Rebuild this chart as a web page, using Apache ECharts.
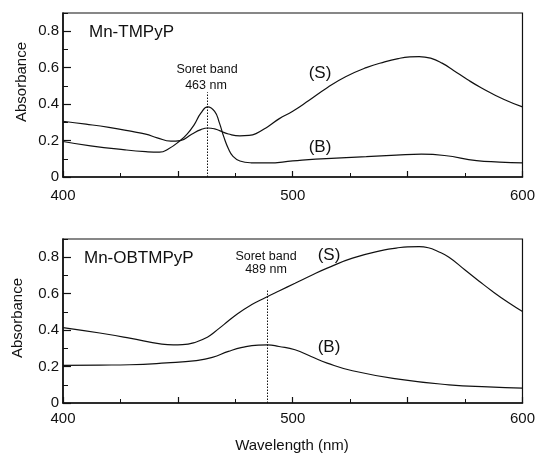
<!DOCTYPE html>
<html>
<head>
<meta charset="utf-8">
<script src="https://cdn.jsdelivr.net/npm/echarts@6/dist/echarts.min.js"></script>
<style>
html,body{margin:0;padding:0;background:#fff;}
#chart{width:538px;height:453px;}
</style>
</head>
<body>
<div id="chart"></div>
<script>
// ---- Data ----
// Top panel: Mn-TMPyP
var tmpyS_wl  = [400,410,420,430,436,441,447,451,456,460,463,466,469,472,477,481,484,489,494,500,507,515,523,532,540,546,551,555,560,565,570,576,582,592,600];
var tmpyS_abs = [0.306,0.29,0.272,0.25,0.235,0.215,0.197,0.2,0.235,0.26,0.269,0.264,0.25,0.236,0.226,0.228,0.238,0.275,0.319,0.361,0.42,0.49,0.55,0.60,0.632,0.65,0.659,0.661,0.652,0.625,0.585,0.535,0.49,0.425,0.385];
var tmpyB_wl  = [400,412,427,436,442,446,451,454,457,460,463,466,468,470,472,474,477,482,489,500,510,532,545,556,566,580,590,600];
var tmpyB_abs = [0.195,0.171,0.149,0.139,0.136,0.155,0.2,0.235,0.285,0.35,0.385,0.36,0.3,0.22,0.155,0.113,0.088,0.078,0.077,0.088,0.098,0.112,0.12,0.125,0.118,0.09,0.082,0.077];
// Bottom panel: Mn-OBTMPyP
var obS_wl  = [400,416,429,443,448,452,458,463,466,470,476,482,488,494,501,508,515,526,540,545,550,555,559,563,568,575,581,587,594,600];
var obS_abs = [0.414,0.384,0.356,0.323,0.319,0.32,0.335,0.362,0.39,0.43,0.49,0.539,0.578,0.615,0.657,0.7,0.74,0.795,0.84,0.85,0.857,0.858,0.852,0.833,0.80,0.73,0.67,0.612,0.55,0.502];
var obB_wl  = [400,416,429,445,458,465,472,478,485,489,494,501,508,515,526,546,568,585,600];
var obB_abs = [0.206,0.208,0.21,0.22,0.233,0.25,0.283,0.305,0.318,0.319,0.31,0.292,0.255,0.219,0.177,0.131,0.10,0.088,0.082];
var soretTop = 463, soretTopTop = 0.465;
var soretBot = 489, soretBotTop = 0.62;
var xTicks = [400, 500, 600];
var yTicks = [0, 0.2, 0.4, 0.6, 0.8];

function zip(a, b){ return a.map(function(v,i){ return [v, b[i]]; }); }

var FONT = '"Liberation Sans", Arial, Helvetica, sans-serif';
var INK = '#111';

var chart = echarts.init(document.getElementById('chart'), null, {renderer:'canvas'});

function xAxisCfg(gridIndex, margin){
  return {
    type:'value', gridIndex:gridIndex, min:400, max:600, interval:50,
    axisLine:{show:true, lineStyle:{color:INK, width:1.6}},
    axisTick:{show:true, inside:true, length:6, lineStyle:{color:INK, width:1.2}},
    minorTick:{show:true, splitNumber:2, length:4, lineStyle:{color:INK, width:1}},
    splitLine:{show:false},
    axisLabel:{color:INK, fontFamily:FONT, fontSize:15, margin:margin,
      formatter:function(v){ return xTicks.indexOf(v) >= 0 ? String(v) : ''; },
      showMinLabel:true, showMaxLabel:true}
  };
}
function yAxisMajor(gridIndex){
  return {
    type:'value', gridIndex:gridIndex, min:0, max:0.9, interval:0.2,
    axisLine:{show:true, lineStyle:{color:INK, width:1.6}},
    axisTick:{show:true, inside:true, length:8, lineStyle:{color:INK, width:1.2}},
    splitLine:{show:false},
    axisLabel:{color:INK, fontFamily:FONT, fontSize:15, margin:4, showMaxLabel:false,
      formatter:function(v){
        var r = Math.round(v*10)/10;
        if (yTicks.indexOf(r) < 0) return '';
        return r === 0 ? '0' : String(r);
      }}
  };
}
function yAxisMinor(gridIndex){
  return {
    type:'value', gridIndex:gridIndex, min:0, max:0.9, interval:0.1, position:'left',
    axisLine:{show:false},
    axisTick:{show:true, inside:true, length:5, lineStyle:{color:INK, width:1}},
    splitLine:{show:false},
    axisLabel:{show:false}
  };
}

function lineSeries(name, xi, yi, data, markLineCfg){
  var s = {
    name:name, type:'line', xAxisIndex:xi, yAxisIndex:yi, data:data,
    smooth:0.5, showSymbol:false, symbol:'none',
    lineStyle:{color:INK, width:1.2}, silent:true, animation:false, z:3
  };
  if (markLineCfg) s.markLine = markLineCfg;
  return s;
}
function soretLine(x, top){
  return {
    silent:true, symbol:['none','none'], animation:false,
    lineStyle:{color:INK, width:1, type:[1.5,1.5]},
    label:{show:false},
    data:[[{coord:[x,0]},{coord:[x,top]}]]
  };
}

var option = {
  backgroundColor:'#fff',
  animation:false,
  grid:[
    {left:63, top:13, width:463, height:164, show:true, borderColor:INK, borderWidth:1.2, backgroundColor:'transparent'},
    {left:63, top:239, width:463, height:164, show:true, borderColor:INK, borderWidth:1.2, backgroundColor:'transparent'}
  ],
  xAxis:[xAxisCfg(0, 11), xAxisCfg(1, 8)],
  yAxis:[yAxisMajor(0), yAxisMinor(0), yAxisMajor(1), yAxisMinor(1)],
  series:[
    lineSeries('(S) Mn-TMPyP', 0, 0, zip(tmpyS_wl, tmpyS_abs)),
    lineSeries('(B) Mn-TMPyP', 0, 0, zip(tmpyB_wl, tmpyB_abs), soretLine(soretTop, soretTopTop)),
    lineSeries('(S) Mn-OBTMPyP', 1, 2, zip(obS_wl, obS_abs)),
    lineSeries('(B) Mn-OBTMPyP', 1, 2, zip(obB_wl, obB_abs), soretLine(soretBot, soretBotTop))
  ],
  graphic:[
    {type:'text', x:22, y:82, rotation:Math.PI/2, style:{text:'Absorbance', font:'15px '+FONT, fill:INK, textAlign:'center', textVerticalAlign:'middle'}},
    {type:'text', x:18, y:318, rotation:Math.PI/2, style:{text:'Absorbance', font:'15px '+FONT, fill:INK, textAlign:'center', textVerticalAlign:'middle'}},
    {type:'text', x:292, y:446, style:{text:'Wavelength (nm)', font:'15px '+FONT, fill:INK, textAlign:'center', textVerticalAlign:'middle'}},
    {type:'text', x:89, y:32, style:{text:'Mn-TMPyP', font:'17px '+FONT, fill:INK, textAlign:'left', textVerticalAlign:'middle'}},
    {type:'text', x:84, y:258, style:{text:'Mn-OBTMPyP', font:'17px '+FONT, fill:INK, textAlign:'left', textVerticalAlign:'middle'}},
    {type:'text', x:207, y:70, style:{text:'Soret band', font:'12.5px '+FONT, fill:INK, textAlign:'center', textVerticalAlign:'middle'}},
    {type:'text', x:206, y:86, style:{text:'463 nm', font:'12.5px '+FONT, fill:INK, textAlign:'center', textVerticalAlign:'middle'}},
    {type:'text', x:266, y:257, style:{text:'Soret band', font:'12.5px '+FONT, fill:INK, textAlign:'center', textVerticalAlign:'middle'}},
    {type:'text', x:266, y:270, style:{text:'489 nm', font:'12.5px '+FONT, fill:INK, textAlign:'center', textVerticalAlign:'middle'}},
    {type:'text', x:320, y:73, style:{text:'(S)', font:'17px '+FONT, fill:INK, textAlign:'center', textVerticalAlign:'middle'}},
    {type:'text', x:320, y:147, style:{text:'(B)', font:'17px '+FONT, fill:INK, textAlign:'center', textVerticalAlign:'middle'}},
    {type:'text', x:329, y:255, style:{text:'(S)', font:'17px '+FONT, fill:INK, textAlign:'center', textVerticalAlign:'middle'}},
    {type:'text', x:329, y:347, style:{text:'(B)', font:'17px '+FONT, fill:INK, textAlign:'center', textVerticalAlign:'middle'}}
  ]
};
chart.setOption(option);
</script>
</body>
</html>
